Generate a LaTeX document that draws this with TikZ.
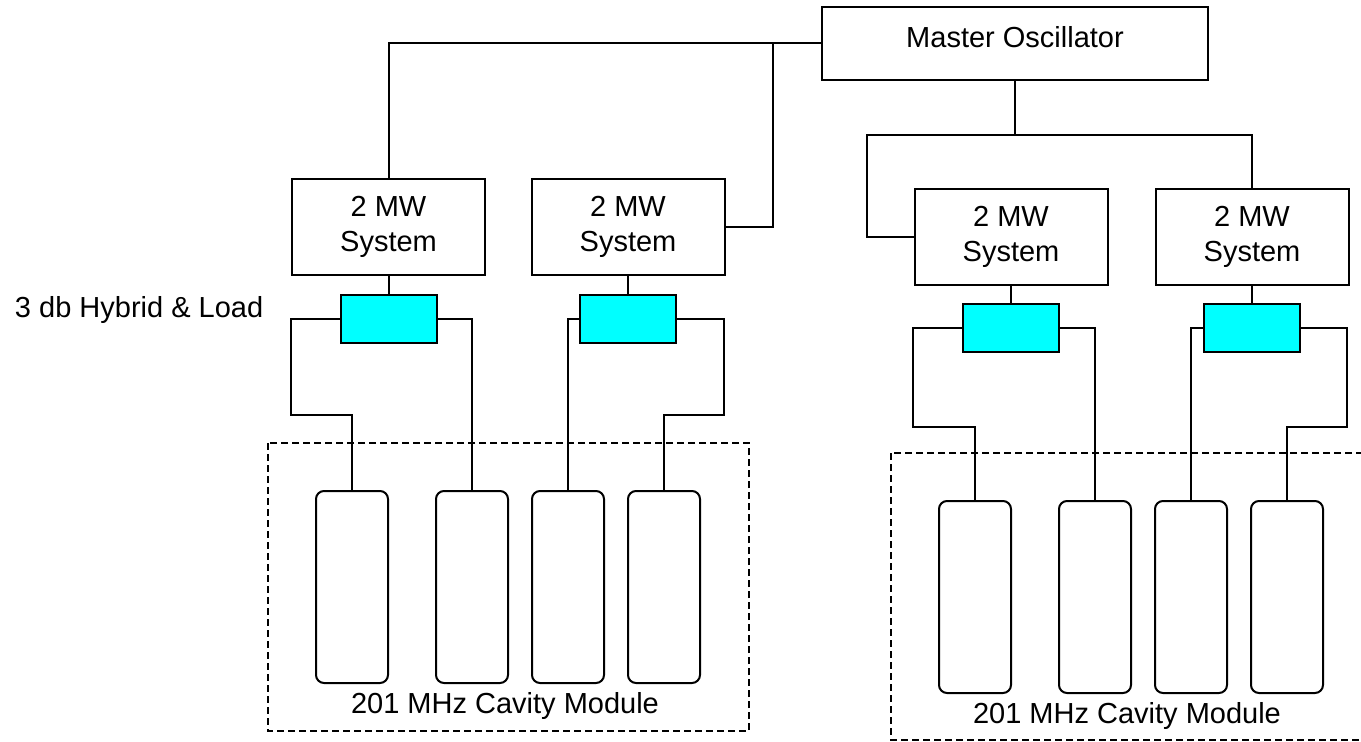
\documentclass[tikz,border=0pt]{standalone}
\usepackage{fontspec}
\setmainfont{Liberation Sans}
\definecolor{hybcyan}{RGB}{0,255,255}
\tikzset{
  mobox/.style={draw, minimum width=289.5pt, minimum height=54.75pt, inner sep=0pt, text depth=10.5pt},
  sysbox/.style={draw, minimum width=144.75pt, minimum height=72pt, align=center, inner sep=0pt},
  hybrid/.style={draw, fill=hybcyan, minimum width=72pt, minimum height=36pt, inner sep=0pt},
  cavity/.style={draw, rounded corners=6pt, minimum width=54pt, minimum height=144pt, inner sep=0pt},
  module/.style={dash pattern=on 5.25pt off 3pt}
}

\begin{document}
\begin{tikzpicture}[x=0.75pt, y=-0.75pt, line width=1.5pt, font=\fontsize{21.75pt}{26.25pt}\selectfont]
\clip (0,0) rectangle (1361,742);
\node[mobox] (mo) at (1015,43.5) {Master Oscillator};
\node[sysbox] (sysA) at (388.5,227) {2 MW\\System};
\node[sysbox] (sysB) at (628,227) {2 MW\\System};
\node[sysbox] (sysC) at (1011,237) {2 MW\\System};
\node[sysbox] (sysD) at (1252,237) {2 MW\\System};
\node[hybrid] (hybA) at (388.5,319) {};
\node[hybrid] (hybB) at (628,319) {};
\node[hybrid] (hybC) at (1011,328) {};
\node[hybrid] (hybD) at (1252,328) {};
\node[cavity] (cavA1) at (352,587) {};
\node[cavity] (cavA2) at (472,587) {};
\node[cavity] (cavB1) at (568,587) {};
\node[cavity] (cavB2) at (664,587) {};
\node[cavity] (cavC1) at (975,597) {};
\node[cavity] (cavC2) at (1095,597) {};
\node[cavity] (cavD1) at (1191,597) {};
\node[cavity] (cavD2) at (1287,597) {};
\node[anchor=base west, inner sep=0pt] (hyblabel) at (14,317) {3 db Hybrid \& Load};
\node[anchor=base, inner sep=0pt] (modlabelA) at (505,713) {201 MHz Cavity Module};
\node[anchor=base, inner sep=0pt] (modlabelB) at (1127,723) {201 MHz Cavity Module};
\draw[module] (268,443) rectangle (749,731);
\draw[module] (891,453) rectangle (1390,740);
\coordinate (jA) at (773,43.5);
\coordinate (jB) at (1015,135);
\draw (mo.west) -| (sysA.north);
\draw (sysB.east) -| (jA);
\draw (mo.south) -- (jB);
\draw (sysC.west) -| (867,135) -| (sysD.north);
\draw (sysA.south) -- (hybA.north);
\draw (sysB.south) -- (hybB.north);
\draw (sysC.south) -- (hybC.north);
\draw (sysD.south) -- (hybD.north);
\draw (hybA.west) -| (291,415) -| (cavA1.north);
\draw (hybA.east) -| (cavA2.north);
\draw (hybB.west) -| (cavB1.north);
\draw (hybB.east) -| (724,415) -| (cavB2.north);
\draw (hybC.west) -| (913,427) -| (cavC1.north);
\draw (hybC.east) -| (cavC2.north);
\draw (hybD.west) -| (cavD1.north);
\draw (hybD.east) -| (1347,427) -| (cavD2.north);
\end{tikzpicture}
\end{document}
